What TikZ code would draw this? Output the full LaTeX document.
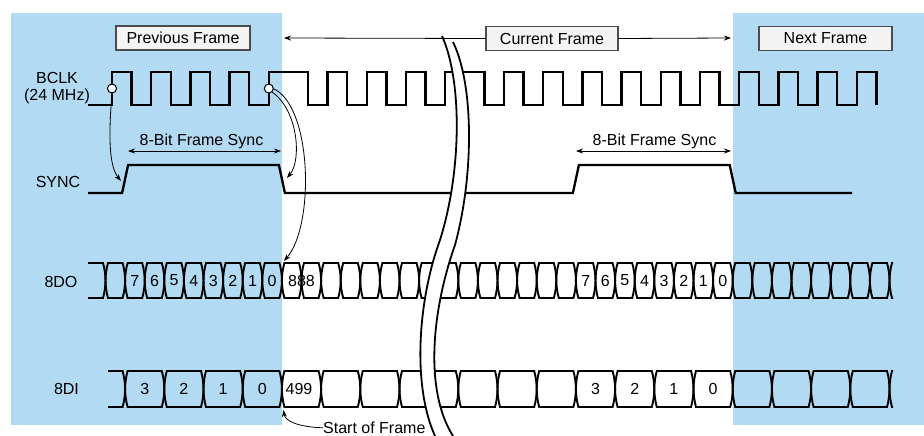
\documentclass[tikz,border=0pt]{standalone}
\usepackage{fontspec}
\setmainfont{Liberation Sans}
\usetikzlibrary{arrows.meta}

\definecolor{frameblue}{RGB}{178,218,242}
\definecolor{boxfill}{RGB}{244,244,244}

\tikzset{
  sig/.style={line width=2.3pt, line join=miter},
  cell/.style={line width=1.9pt},
  lbl/.style={font=\fontsize{16}{18}\selectfont, inner sep=0pt},
  framebox/.style={lbl, draw=black!70, fill=boxfill, line width=1.2pt, minimum height=24pt},
  arr/.style={line width=0.8pt, -{Stealth[length=7pt,width=5pt]}},
  dblarr/.style={line width=0.8pt, {Stealth[length=7pt,width=5pt]}-{Stealth[length=7pt,width=5pt]}},
  ring/.style={circle, draw, fill=white, line width=1pt, minimum size=9pt, inner sep=0pt},
  breakline/.style={line width=1.8pt},
}

% one bus cell between two transitions
\newcommand{\buscell}[4]{%
  \draw[cell] ({#1+2.5},#3) -- ({#2-2.5},#3)
    .. controls ({#2+0.8},{#3+(#4-#3)/3}) and ({#2+0.8},{#4-(#4-#3)/3}) .. ({#2-2.5},#4)
    -- ({#1+2.5},#4)
    .. controls ({#1-0.8},{#4-(#4-#3)/3}) and ({#1-0.8},{#3+(#4-#3)/3}) .. cycle;}
% open lines running into a transition
\newcommand{\busopenL}[4]{%
  \draw[cell] (#1,#3) -- ({#2-2.5},#3)
    .. controls ({#2+0.8},{#3+(#4-#3)/3}) and ({#2+0.8},{#4-(#4-#3)/3}) .. ({#2-2.5},#4) -- (#1,#4);}
% open lines running out of a transition
\newcommand{\busopenR}[4]{%
  \draw[cell] (#2,#3) -- ({#1+2.5},#3)
    .. controls ({#1-0.8},{#3+(#4-#3)/3}) and ({#1-0.8},{#4-(#4-#3)/3}) .. ({#1+2.5},#4) -- (#2,#4);}

\begin{document}
\begin{tikzpicture}[x=1pt,y=-1pt]
\useasboundingbox (0,0) rectangle (924,436);

% shaded frames
\fill[frameblue] (11,13) rectangle (281.9,425);
\fill[frameblue] (732.7,13) rectangle (924,425);

\node[framebox, minimum width=134pt] (prevbox) at (183,38) {Previous Frame};
\node[framebox, minimum width=132pt] (curbox) at (552,38.5) {Current Frame};
\node[framebox, minimum width=133pt] (nextbox) at (825.5,38.5) {Next Frame};

\node[lbl, anchor=base] (bclk) at (57,84) {BCLK};
\node[lbl, anchor=base] (mhz) at (57,100.5) {(24 MHz)};
\node[lbl, anchor=base] (sync) at (58,187) {SYNC};
\node[lbl, anchor=base] (dout) at (61,287) {8DO};
\node[lbl, anchor=base] (din) at (66.5,394.5) {8DI};

% BCLK
\draw[sig] (88,105) \foreach \rs/\fs in {0/1,2/3,4/5,6/7,8/10,11/12,13/14,15/16} {
  -- ({112+19.6*\rs},105) -- ({112+19.6*\rs},72) -- ({112+19.6*\fs},72) -- ({112+19.6*\fs},105)}
  -- ({112+19.6*17},105) -- ({112+19.6*17},72) -- (460,72);
\draw[sig] (458,72) -- ({112+19.6*19},72) -- ({112+19.6*19},105)
  \foreach \rs/\fs in {20/21,22/23,24/25,26/27,28/29,30/31,32/33,34/35,36/37,38/39} {
  -- ({112+19.6*\rs},105) -- ({112+19.6*\rs},72) -- ({112+19.6*\fs},72) -- ({112+19.6*\fs},105)};

% SYNC
\draw[sig] (88,193) -- (122.1,193) -- (128.1,165) -- (278.9,165) -- (284.9,193)
  -- (572.9,193) -- (578.9,165) -- (729.7,165) -- (735.7,193) -- (852,193);

% 8DO
\busopenL{88}{105.5}{263}{298}
\foreach \k in {0,...,15} {
  \pgfmathsetmacro\xa{105.5+19.6*\k}
  \pgfmathsetmacro\xb{\xa+19.6}
  \buscell{\xa}{\xb}{263}{298}
}
\busopenR{419.1}{440}{263}{298}
\busopenL{437}{458.3}{263}{298}
\foreach \k in {18,...,39} {
  \pgfmathsetmacro\xa{105.5+19.6*\k}
  \pgfmathsetmacro\xb{\xa+19.6}
  \buscell{\xa}{\xb}{263}{298}
}
\busopenR{889.5}{893}{263}{298}

% 8DI
\busopenL{108}{125.1}{371}{407}
\foreach \k in {1,3,...,13} {
  \pgfmathsetmacro\xa{105.5+19.6*\k}
  \pgfmathsetmacro\xb{\xa+39.2}
  \buscell{\xa}{\xb}{371}{407}
}
\busopenR{399.5}{430}{371}{407}
\busopenL{425}{458.3}{371}{407}
\foreach \k in {18,20,...,38} {
  \pgfmathsetmacro\xa{105.5+19.6*\k}
  \pgfmathsetmacro\xb{\xa+39.2}
  \buscell{\xa}{\xb}{371}{407}
}
\busopenR{889.5}{893}{371}{407}

% time break
\fill[white] (442,36) .. controls (462,80) and (462,170) .. (440,240)
  .. controls (418,300) and (412,385) .. (435,436) -- (453,436)
  .. controls (424,390) and (432,310) .. (455,245)
  .. controls (474,175) and (474,85) .. (453,42) -- cycle;
\draw[breakline] (442,36) .. controls (462,80) and (462,170) .. (440,240)
  .. controls (418,300) and (412,385) .. (435,436);
\draw[breakline] (453,42) .. controls (474,85) and (474,175) .. (455,245)
  .. controls (432,310) and (424,390) .. (453,436);

% frame arrows
\coordinate (curL) at (284,38);
\coordinate (curR) at (731,38);
\draw[arr] (curbox.west) -- (curL);
\draw[arr] (curbox.east) -- (curR);

\coordinate (fsA1) at (128,151);
\coordinate (fsB1) at (281,151);
\draw[dblarr] (fsA1) -- (fsB1);
\node[lbl, anchor=base] (fsync1) at (201.5,145) {8-Bit Frame Sync};
\coordinate (fsA2) at (576,151);
\coordinate (fsB2) at (731,151);
\draw[dblarr] (fsA2) -- (fsB2);
\node[lbl, anchor=base] (fsync2) at (654.5,145) {8-Bit Frame Sync};

% clock edges
\coordinate (syncUp) at (121,181);
\coordinate (syncDn) at (287,178);
\coordinate (doEdge) at (284,261);
\draw[arr] (112,93) .. controls (109,130) and (108,165) .. (syncUp);
\draw[arr] (272,92) .. controls (298,110) and (302,160) .. (syncDn);
\draw[arr] (273,88.5) .. controls (312,105) and (315,225) .. (doEdge);
\node[ring] (clkA) at (112,88.5) {};
\node[ring] (clkB) at (268.8,88.5) {};

% 8DO bits
\node[lbl] (doa7) at (134.9,280.5) {7};
\node[lbl] (doa6) at (154.5,280.5) {6};
\node[lbl] (doa5) at (174.1,280.5) {5};
\node[lbl] (doa4) at (193.7,280.5) {4};
\node[lbl] (doa3) at (213.3,280.5) {3};
\node[lbl] (doa2) at (232.9,280.5) {2};
\node[lbl] (doa1) at (252.5,280.5) {1};
\node[lbl] (doa0) at (272.1,280.5) {0};
\node[lbl] (do888) at (301.5,280.5) {888};
\node[lbl] (dob7) at (585.7,280.5) {7};
\node[lbl] (dob6) at (605.3,280.5) {6};
\node[lbl] (dob5) at (624.9,280.5) {5};
\node[lbl] (dob4) at (644.5,280.5) {4};
\node[lbl] (dob3) at (664.1,280.5) {3};
\node[lbl] (dob2) at (683.7,280.5) {2};
\node[lbl] (dob1) at (703.3,280.5) {1};
\node[lbl] (dob0) at (722.9,280.5) {0};

% 8DI bits
\node[lbl] (dia3) at (144.7,389) {3};
\node[lbl] (dia2) at (183.9,389) {2};
\node[lbl] (dia1) at (223.1,389) {1};
\node[lbl] (dia0) at (262.3,389) {0};
\node[lbl] (di499) at (299,389) {499};
\node[lbl] (dib3) at (595.5,389) {3};
\node[lbl] (dib2) at (634.7,389) {2};
\node[lbl] (dib1) at (673.9,389) {1};
\node[lbl] (dib0) at (713.1,389) {0};

\node[lbl, anchor=base west] (sof) at (323,433.5) {Start of Frame};
\coordinate (diEdge) at (283.5,410);
\draw[arr] (sof.west) .. controls (298,427) and (285,421) .. (diEdge);
\end{tikzpicture}
\end{document}
